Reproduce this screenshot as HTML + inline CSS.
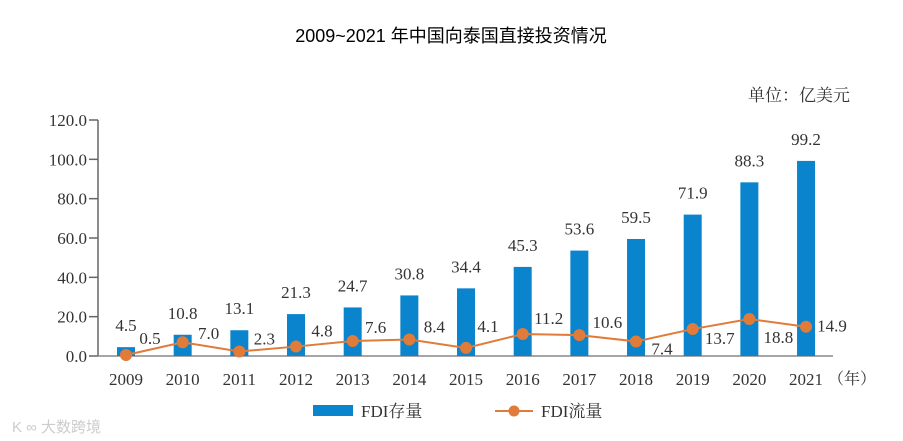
<!DOCTYPE html>
<html><head><meta charset="utf-8">
<style>
body{margin:0;background:#fff;}
svg{display:block;font-family:"Liberation Serif","Noto Serif CJK SC",serif;}
</style></head>
<body>
<svg id="chart" width="903" height="441" viewBox="0 0 903 441" xmlns="http://www.w3.org/2000/svg">
<text x="451" y="42" text-anchor="middle" font-size="18" font-family="Liberation Sans, Noto Sans CJK SC, sans-serif" fill="#000">2009~2021 年中国向泰国直接投资情况</text>
<text x="850" y="101" text-anchor="end" font-size="17" fill="#333">单位：亿美元</text>
<g id="axes"></g>
<g id="bars"></g>
<g id="line"></g>
<g id="labels"></g>
<g>
<rect x="313" y="405" width="40" height="11" fill="#0a84cc"/>
<text x="361" y="417" font-size="17" fill="#333">FDI存量</text>
<line x1="495" y1="411" x2="533" y2="411" stroke="#e07b39" stroke-width="2"/>
<circle cx="514" cy="411" r="5.5" fill="#e07b39"/>
<text x="541" y="417" font-size="17" fill="#333">FDI流量</text>
</g>
<text x="12" y="432" font-size="15" fill="#ccc" font-family="Liberation Sans, Noto Sans CJK SC, sans-serif">K ∞ 大数跨境</text>
</svg>
<script>
const years = ["2009","2010","2011","2012","2013","2014","2015","2016","2017","2018","2019","2020","2021"];
const stockValues = [4.5,10.8,13.1,21.3,24.7,30.8,34.4,45.3,53.6,59.5,71.9,88.3,99.2];
const flowValues = [0.5,7.0,2.3,4.8,7.6,8.4,4.1,11.2,10.6,7.4,13.7,18.8,14.9];
const yTicks = [0,20,40,60,80,100,120];
const flowLabelDx = [24,26,25,26,23,25,22,26,28,26,27,29,26];
const flowLabelDy = [-11,-3,-7,-10,-8,-7,-16,-10,-7,13,15,24,5];

const NS="http://www.w3.org/2000/svg";
const x0=98, x1=833, y0=356, yTop=120;
function yScale(v){return y0-(v/120)*(y0-yTop);}
function xScale(i){return 126+i*56.67;}
function mk(tag,attrs,parent,text){const e=document.createElementNS(NS,tag);for(const k in attrs)e.setAttribute(k,attrs[k]);if(text!=null)e.textContent=text;parent.appendChild(e);return e;}
const axes=document.getElementById('axes'),bars=document.getElementById('bars'),line=document.getElementById('line'),labels=document.getElementById('labels');

let el=mk('line',{x1:x0,y1:yTop,x2:x0,y2:y0,stroke:'#666','stroke-width':1.5},axes);


el=mk('line',{x1:x0,y1:y0,x2:x1,y2:y0,stroke:'#888','stroke-width':1.5},axes);


yTicks.forEach(t=>{
  const y=yScale(t);
  let tk=mk('line',{x1:x0-9,y1:y,x2:x0,y2:y,stroke:'#666','stroke-width':1.5},axes);
  
  
  let tl=mk('text',{x:x0-11,y:y+6,'text-anchor':'end','font-size':17,fill:'#333'},axes,t.toFixed(1));
  
  
});
years.forEach((yr,i)=>{
  let t=mk('text',{x:xScale(i),y:385,'text-anchor':'middle','font-size':17,fill:'#333'},axes,yr);
  
  
});
el=mk('text',{x:xScale(years.length-1)+22,y:384,'font-size':16,fill:'#333'},axes,'（年）');



stockValues.forEach((v,i)=>{
  const cx=xScale(i),y=yScale(v);
  let b=mk('rect',{x:cx-9,y:y,width:18,height:y0-y,fill:'#0a84cc'},bars);
  
  
  let t=mk('text',{x:cx,y:y-16,'text-anchor':'middle','font-size':17,fill:'#333'},labels,v.toFixed(1));
  
  
});
const pts=flowValues.map((v,i)=>xScale(i)+','+yScale(v)).join(' ');
el=mk('polyline',{points:pts,fill:'none',stroke:'#e07b39','stroke-width':2},line);


flowValues.forEach((v,i)=>{
  const cx=xScale(i),cy=yScale(v);
  let c=mk('circle',{cx:cx,cy:cy,r:6,fill:'#e07b39'},line);
  
  
  let t=mk('text',{x:cx+flowLabelDx[i],y:cy+flowLabelDy[i],'text-anchor':'middle','font-size':17,fill:'#333'},labels,v.toFixed(1));
  
  
});
</script>
</body></html>
